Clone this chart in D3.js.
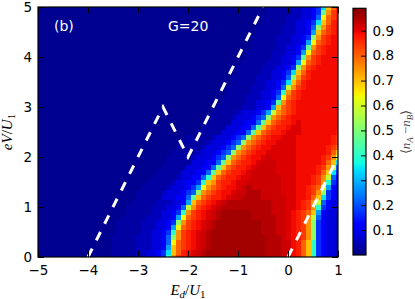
<!DOCTYPE html>
<html>
<head>
<meta charset="utf-8">
<script src="https://cdn.jsdelivr.net/npm/d3@7"></script>
<style>
body { margin: 0; background: #fff; }
text { font-family: "DejaVu Sans", sans-serif; }
</style>
</head>
<body>
<script>
// map grid: E_d/U_1 from -5 to 1, eV/U_1 from 0 to 5, step 0.1 (cell centres)
var xGrid = d3.range(61).map(function(i) { return -5 + i * 0.1; });
var yGrid = d3.range(51).map(function(j) { return j * 0.1; });

// level codes used in the rows below -> <n_A - n_B>
var levelKeys = "ABCDEFGHIJKLMNOPQRSTUVWX";
var levelValues = [0.015, 0.03, 0.05, 0.08, 0.12, 0.17, 0.22, 0.28, 0.34, 0.40, 0.46, 0.52,
                   0.58, 0.64, 0.70, 0.75, 0.80, 0.84, 0.87, 0.89, 0.91, 0.925, 0.945, 0.96];

// one row per eV/U_1 value, bottom row (0) first, run-length coded (letter + count)
var mapRows = [
  "A15B5C2D2EFJPRSTUVWX12W3V2TSQOJFED2C",
  "A15B5C2D2EFIOQSTUVWX12W3V2TSQOJFED2C",
  "A15B5C3D2EHOQRSTUVWX11W3V2TSQOJFED2C",
  "A15B5C3D2EGNQRSTUVWX11W3V2TSQOJFED2C",
  "A15B5C3D2EGLPRSTUVWX11W3VUTSRPLFED2C",
  "A16B5C2D2EFJPRSTUVWX10W3V2UTSRPLFED2C",
  "A16B5C3D2EHNQRSTUVWX9W3V2UTSRPLFED2C",
  "A16B5C3D2EFLPRSTUVWX9W3V2UTSRPLFED2C",
  "A17B5C3D2EHNQRSTUVWX6W5V2UTSRPMGED2C",
  "A18B5C2D2EFJPRSTUVWX6W4V3UTSRQOHED2C",
  "A18B5C3D2EGMPRSTUVW10V3U2TSRPJFED2",
  "A19B5C3D2EHOQRSTUVW9V3U2TSRPMGED2",
  "A20B5D3E2GKOQRS2TUV2W4V5U2T2SQOIFED",
  "A20B5CD3EFGLPQRST2UV2W3V4U3T2SRPLFED",
  "A21B5CD3EFHNPQRST2UVWV6U3T2SRQNHED",
  "A22B5CD2E2FJOPRS2TU2V7U3T3SRPJFE",
  "A23B5CD2E2GJOQRS2TU2V6U3T3SRPMGE",
  "A24B5D3E2GKOQRS2TUV5U4T4SQOIF",
  "A25B5D3E2GKOQRS2TUV4U4T4SRPMG",
  "A26B5D3E2GKOQRS2TUV3U4T5SQOI",
  "A26B5CD3EFGLPQRST2UVU5T5SRPM",
  "A27B5CD3EFGLPQRST2U6T6SQO",
  "A28B5CD3EFGLPQRST2U5T6SRQ",
  "A29B5CD3EFGLPQRST2U4T7SR",
  "A30B5CD3EFGLPQRST2U3T7SR",
  "A32B5D3E2GKOQRS2TU3T7S",
  "A33B5D3E2GKOQRS2TU2T8",
  "A34B5D3E2GKOQRS2TUT8",
  "A34B5CD3EFGLPQRST10",
  "A35B5CD3EFHMPQRST9",
  "A36B5C3D2EHOQRST9",
  "A37B5C2D2EFKPRST9",
  "A37B5C3D2EGNQRST8",
  "A38B5C2D2EFJPRST8",
  "A38B5C3D2EGMPRST7",
  "A39B5C2D2EFIOQST7",
  "A39B5C3D2EGLPRST6",
  "A40B5C2D2EFIOQST6",
  "A40B5C3D2EFLPRST5",
  "A41B5C3D2EHNQRST4",
  "A42B5C2D2EFKPRST4",
  "A42B5C3D2EHNQRST3",
  "A43B5C2D2EFKPRST3",
  "A43B5C3D2EHNQRST2",
  "A43B5C3D2EFLPRST2",
  "A44B5C3D2EHOQRST",
  "A44B5C3D2EGLPRST",
  "A45B5C2D2EFIOQST",
  "A45B5C3D2EGNQRS",
  "A46B5C2D2EFKPRS",
  "A46B5C2D2EFIOQS"
];

var xTicks = [-5, -4, -3, -2, -1, 0, 1];
var yTicks = [0, 1, 2, 3, 4, 5];
var cbarTicks = [0.1, 0.2, 0.3, 0.4, 0.5, 0.6, 0.7, 0.8, 0.9];

// white dashed guide lines
var dashLeft = [[-4, 0], [-2.5, 3], [-2, 2], [-0.5, 5]];
var dashRight = [[0, 0], [1, 2]];

var width = 415, height = 299;

var svg = d3.select('body')
            .append('svg')
            .attr('width', width)
            .attr('height', height);

var x = d3.scaleLinear().domain([-5, 1]).range([38, 338]);
var y = d3.scaleLinear().domain([0, 5]).range([257, 7]);

// matplotlib "jet"
var jetR = d3.scaleLinear().domain([0, 0.35, 0.66, 0.89, 1]).range([0, 0, 1, 1, 0.5]).clamp(true);
var jetG = d3.scaleLinear().domain([0, 0.125, 0.375, 0.64, 0.91, 1]).range([0, 0, 1, 1, 0, 0]).clamp(true);
var jetB = d3.scaleLinear().domain([0, 0.11, 0.34, 0.65, 1]).range([0.5, 1, 1, 0, 0]).clamp(true);
var norm = d3.scaleLinear().domain([0, 0.99]).range([0, 1]).clamp(true);
function jet(v) {
  var t = norm(v);
  return d3.rgb(jetR(t) * 255, jetG(t) * 255, jetB(t) * 255).toString();
}

function decodeRow(s) {
  var out = [];
  s.replace(/([A-X])(\d*)/g, function(m, k, n) {
    var c = n ? +n : 1;
    for (var q = 0; q < c; q++) out.push(levelValues[levelKeys.indexOf(k)]);
  });
  return out;
}

var cells = [];
mapRows.forEach(function(s, j) {
  decodeRow(s).forEach(function(v, i) {
    if (i < xGrid.length) cells.push({ x: xGrid[i], y: yGrid[j], v: v });
  });
});

svg.append('clipPath').attr('id', 'plotclip')
   .append('rect')
   .attr('x', 38).attr('y', 7).attr('width', 300).attr('height', 250);

var plot = svg.append('g').attr('clip-path', 'url(#plotclip)');

plot.selectAll('rect.cell')
    .data(cells)
    .enter()
    .append('rect')
    .attr('class', 'cell')
    .attr('x', function(d) { return x(d.x - 0.05); })
    .attr('y', function(d) { return y(d.y + 0.05); })
    .attr('width', x(0.1) - x(0))
    .attr('height', y(0) - y(0.1))
    .attr('fill', function(d) { return jet(d.v); })
    .attr('shape-rendering', 'crispEdges');

var line = d3.line()
             .x(function(d) { return x(d[0]); })
             .y(function(d) { return y(d[1]); });

[dashLeft, dashRight].forEach(function(pts) {
  plot.append('path')
      .attr('d', line(pts))
      .attr('fill', 'none')
      .attr('stroke', 'white')
      .attr('stroke-width', 3)
      .attr('stroke-dasharray', '9.3,9.3');
});

// annotations
svg.append('text').attr('x', 54).attr('y', 31)
   .attr('fill', 'white').attr('font-size', 14).text('(b)');
svg.append('text').attr('x', 168).attr('y', 31)
   .attr('fill', 'white').attr('font-size', 14).text('G=20');

// axes, ticks inward on all four sides
var fmt = d3.format('d');
var gx = svg.append('g').attr('transform', 'translate(0,257)')
            .call(d3.axisBottom(x).tickValues(xTicks).tickSize(-6).tickPadding(8).tickFormat(fmt));
var gxt = svg.append('g').attr('transform', 'translate(0,7)')
             .call(d3.axisTop(x).tickValues(xTicks).tickSize(-6).tickFormat(''));
var gy = svg.append('g').attr('transform', 'translate(38,0)')
            .call(d3.axisLeft(y).tickValues(yTicks).tickSize(-6).tickPadding(6).tickFormat(fmt));
var gyr = svg.append('g').attr('transform', 'translate(338,0)')
             .call(d3.axisRight(y).tickValues(yTicks).tickSize(-6).tickFormat(''));

[gx, gxt, gy, gyr].forEach(function(g) {
  g.select('.domain').remove();
  g.selectAll('text').attr('font-size', 13.5).attr('fill', 'black')
   .style('font-family', '"DejaVu Sans", sans-serif');
  g.selectAll('line').attr('stroke', 'black').attr('stroke-width', 1);
});

svg.append('rect')
   .attr('x', 38).attr('y', 7).attr('width', 300).attr('height', 250)
   .attr('fill', 'none').attr('stroke', 'black').attr('stroke-width', 1.2);

// axis labels
var xl = svg.append('text').attr('x', 188).attr('y', 295)
            .attr('text-anchor', 'middle')
            .style('font-family', '"Liberation Serif", serif').attr('font-size', 15);
xl.append('tspan').attr('font-style', 'italic').text('E');
xl.append('tspan').attr('font-style', 'italic').attr('font-size', 11).attr('dy', 3).text('d');
xl.append('tspan').attr('dy', -3).text('/');
xl.append('tspan').attr('font-style', 'italic').text('U');
xl.append('tspan').attr('font-size', 11).attr('dy', 3).text('1');

var yl = svg.append('text').attr('transform', 'translate(12,132) rotate(-90)')
            .attr('text-anchor', 'middle')
            .style('font-family', '"Liberation Serif", serif').attr('font-size', 15);
yl.append('tspan').attr('font-style', 'italic').text('eV');
yl.append('tspan').text('/');
yl.append('tspan').attr('font-style', 'italic').text('U');
yl.append('tspan').attr('font-size', 11).attr('dy', 3).text('1');

// colorbar
var cb = d3.scaleLinear().domain([0, 0.99]).range([255, 8.3]);
var grad = svg.append('defs').append('linearGradient')
              .attr('id', 'jetgrad')
              .attr('x1', 0).attr('y1', 1).attr('x2', 0).attr('y2', 0);
grad.selectAll('stop')
    .data(d3.range(0, 1.0001, 0.01))
    .enter()
    .append('stop')
    .attr('offset', function(t) { return t; })
    .attr('stop-color', function(t) { return jet(t * 0.99); });

svg.append('rect')
   .attr('x', 353).attr('y', cb(0.99)).attr('width', 13).attr('height', cb(0) - cb(0.99))
   .attr('fill', 'url(#jetgrad)').attr('stroke', 'black').attr('stroke-width', 1.2);

var gc = svg.append('g').attr('transform', 'translate(366,0)')
            .call(d3.axisRight(cb).tickValues(cbarTicks).tickSize(-5).tickPadding(6.5).tickFormat(d3.format('.1f')));
gc.select('.domain').remove();
gc.selectAll('text').attr('font-size', 13.5).attr('fill', 'black')
  .style('font-family', '"DejaVu Sans", sans-serif');
gc.selectAll('line').attr('stroke', 'black');

var cl = svg.append('text').attr('transform', 'translate(410,132) rotate(-90)')
            .attr('text-anchor', 'middle').attr('fill', '#444')
            .style('font-family', '"Liberation Serif", serif').attr('font-size', 13);
cl.append('tspan').text('\u27E8');
cl.append('tspan').attr('font-style', 'italic').text('n');
cl.append('tspan').attr('font-style', 'italic').attr('font-size', 9).attr('dy', 3).text('A');
cl.append('tspan').attr('dy', -3).text(' \u2212');
cl.append('tspan').attr('font-style', 'italic').text('n');
cl.append('tspan').attr('font-style', 'italic').attr('font-size', 9).attr('dy', 3).text('B');
cl.append('tspan').attr('dy', -3).text('\u27E9');
</script>
</body>
</html>
